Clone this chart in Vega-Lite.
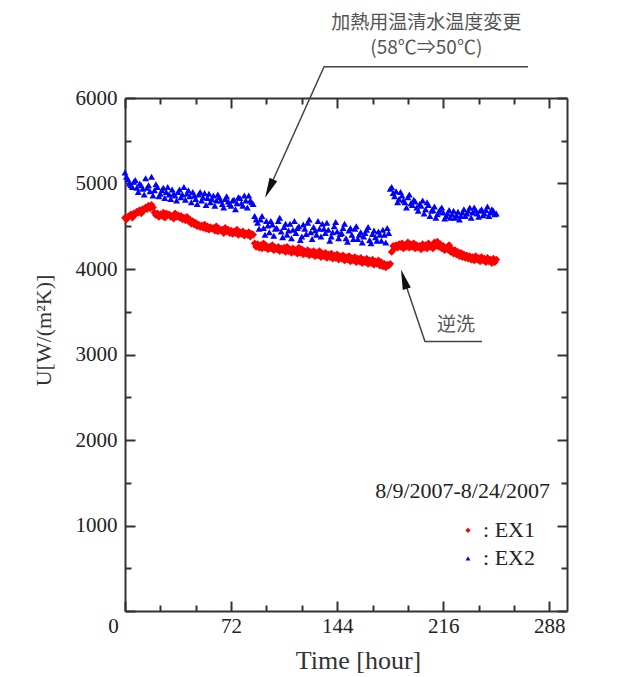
{
  "$schema": "https://vega.github.io/schema/vega-lite/v6.json",
  "width": 442,
  "height": 513,
  "autosize": {"type": "none"},
  "padding": {"left": 125, "top": 98, "right": 58, "bottom": 66},
  "background": "white",
  "config": {
    "view": {"stroke": null},
    "axis": {
      "domainColor": "#333333",
      "domainWidth": 2,
      "tickColor": "#333333",
      "tickWidth": 2,
      "grid": false,
      "labelFont": "Liberation Serif",
      "labelFontSize": 21,
      "labelColor": "#222222",
      "titleFont": "Liberation Serif",
      "titleColor": "#333333",
      "titleFontWeight": "normal",
      "labelOverlap": false,
      "labelFlush": false,
      "zindex": 1
    }
  },
  "datasets": {
    "ex1": [
      {"t":0,"u":4600},{"t":2,"u":4610},{"t":4,"u":4640},{"t":6,"u":4650},{"t":8,"u":4670},{"t":10,"u":4690},{"t":12,"u":4700},{"t":14,"u":4720},{"t":16,"u":4740},{"t":18,"u":4750},
      {"t":20,"u":4660},{"t":22,"u":4650},{"t":24,"u":4640},{"t":26,"u":4660},{"t":28,"u":4650},{"t":30,"u":4640},{"t":32,"u":4620},{"t":34,"u":4650},{"t":36,"u":4630},{"t":38,"u":4620},
      {"t":40,"u":4600},{"t":42,"u":4610},{"t":44,"u":4580},{"t":46,"u":4560},{"t":48,"u":4540},{"t":50,"u":4520},{"t":52,"u":4510},{"t":54,"u":4520},{"t":56,"u":4500},{"t":58,"u":4490},
      {"t":60,"u":4480},{"t":62,"u":4500},{"t":64,"u":4470},{"t":66,"u":4460},{"t":68,"u":4480},{"t":70,"u":4460},{"t":72,"u":4450},{"t":74,"u":4440},{"t":76,"u":4460},{"t":78,"u":4430},
      {"t":80,"u":4440},{"t":82,"u":4420},{"t":84,"u":4430},{"t":86,"u":4410},{"t":88,"u":4300},{"t":90,"u":4290},{"t":92,"u":4280},{"t":94,"u":4300},{"t":96,"u":4270},{"t":98,"u":4260},
      {"t":100,"u":4280},{"t":102,"u":4250},{"t":104,"u":4260},{"t":106,"u":4240},{"t":108,"u":4250},{"t":110,"u":4260},{"t":112,"u":4230},{"t":114,"u":4240},{"t":116,"u":4220},{"t":118,"u":4250},
      {"t":120,"u":4230},{"t":122,"u":4210},{"t":124,"u":4220},{"t":126,"u":4200},{"t":128,"u":4210},{"t":130,"u":4190},{"t":132,"u":4210},{"t":134,"u":4180},{"t":136,"u":4190},{"t":138,"u":4170},
      {"t":140,"u":4180},{"t":142,"u":4160},{"t":144,"u":4170},{"t":146,"u":4150},{"t":148,"u":4160},{"t":150,"u":4140},{"t":152,"u":4150},{"t":154,"u":4130},{"t":156,"u":4140},{"t":158,"u":4120},
      {"t":160,"u":4130},{"t":162,"u":4110},{"t":164,"u":4120},{"t":166,"u":4100},{"t":168,"u":4110},{"t":170,"u":4090},{"t":172,"u":4100},{"t":174,"u":4080},{"t":176,"u":4060},{"t":178,"u":4050},
      {"t":180,"u":4060},{"t":182,"u":4270},{"t":184,"u":4280},{"t":186,"u":4290},{"t":188,"u":4300},{"t":190,"u":4280},{"t":192,"u":4310},{"t":194,"u":4290},{"t":196,"u":4300},{"t":198,"u":4280},
      {"t":200,"u":4270},{"t":202,"u":4290},{"t":204,"u":4280},{"t":206,"u":4300},{"t":208,"u":4270},{"t":210,"u":4310},{"t":212,"u":4320},{"t":214,"u":4290},{"t":216,"u":4270},{"t":218,"u":4250},
      {"t":220,"u":4280},{"t":222,"u":4230},{"t":224,"u":4220},{"t":226,"u":4200},{"t":228,"u":4190},{"t":230,"u":4170},{"t":232,"u":4160},{"t":234,"u":4150},{"t":236,"u":4140},{"t":238,"u":4150},
      {"t":240,"u":4130},{"t":242,"u":4140},{"t":244,"u":4120},{"t":246,"u":4130},{"t":248,"u":4110},{"t":250,"u":4120},{"t":252,"u":4110},
      {"t":1,"u":4580},{"t":3,"u":4620},{"t":5,"u":4600},{"t":7,"u":4640},{"t":9,"u":4660},{"t":11,"u":4650},{"t":13,"u":4690},{"t":15,"u":4700},{"t":17,"u":4710},{"t":19,"u":4720},
      {"t":21,"u":4630},{"t":23,"u":4610},{"t":25,"u":4620},{"t":27,"u":4600},{"t":29,"u":4630},{"t":31,"u":4610},{"t":33,"u":4590},{"t":35,"u":4610},{"t":37,"u":4600},{"t":39,"u":4580},
      {"t":41,"u":4570},{"t":43,"u":4560},{"t":45,"u":4530},{"t":47,"u":4520},{"t":49,"u":4500},{"t":51,"u":4490},{"t":53,"u":4480},{"t":55,"u":4470},{"t":57,"u":4460},{"t":59,"u":4470},
      {"t":61,"u":4450},{"t":63,"u":4440},{"t":65,"u":4450},{"t":67,"u":4420},{"t":69,"u":4440},{"t":71,"u":4420},{"t":73,"u":4410},{"t":75,"u":4420},{"t":77,"u":4400},{"t":79,"u":4410},
      {"t":81,"u":4390},{"t":83,"u":4400},{"t":85,"u":4380},{"t":87,"u":4400},{"t":89,"u":4260},{"t":91,"u":4250},{"t":93,"u":4240},{"t":95,"u":4250},{"t":97,"u":4230},{"t":99,"u":4240},
      {"t":101,"u":4220},{"t":103,"u":4230},{"t":105,"u":4210},{"t":107,"u":4220},{"t":109,"u":4200},{"t":111,"u":4210},{"t":113,"u":4190},{"t":115,"u":4200},{"t":117,"u":4180},{"t":119,"u":4190},
      {"t":121,"u":4170},{"t":123,"u":4180},{"t":125,"u":4160},{"t":127,"u":4170},{"t":129,"u":4150},{"t":131,"u":4160},{"t":133,"u":4140},{"t":135,"u":4150},{"t":137,"u":4130},{"t":139,"u":4140},
      {"t":141,"u":4120},{"t":143,"u":4130},{"t":145,"u":4110},{"t":147,"u":4120},{"t":149,"u":4100},{"t":151,"u":4110},{"t":153,"u":4090},{"t":155,"u":4100},{"t":157,"u":4080},{"t":159,"u":4090},
      {"t":161,"u":4070},{"t":163,"u":4080},{"t":165,"u":4060},{"t":167,"u":4070},{"t":169,"u":4050},{"t":171,"u":4060},{"t":173,"u":4040},{"t":175,"u":4030},{"t":177,"u":4020},{"t":179,"u":4040},
      {"t":181,"u":4200},{"t":183,"u":4240},{"t":185,"u":4250},{"t":187,"u":4260},{"t":189,"u":4240},{"t":191,"u":4260},{"t":193,"u":4250},{"t":195,"u":4260},{"t":197,"u":4240},{"t":199,"u":4250},
      {"t":201,"u":4230},{"t":203,"u":4250},{"t":205,"u":4240},{"t":207,"u":4260},{"t":209,"u":4240},{"t":211,"u":4270},{"t":213,"u":4260},{"t":215,"u":4240},{"t":217,"u":4220},{"t":219,"u":4230},
      {"t":221,"u":4200},{"t":223,"u":4180},{"t":225,"u":4170},{"t":227,"u":4150},{"t":229,"u":4140},{"t":231,"u":4130},{"t":233,"u":4120},{"t":235,"u":4110},{"t":237,"u":4100},{"t":239,"u":4110},
      {"t":241,"u":4090},{"t":243,"u":4100},{"t":245,"u":4080},{"t":247,"u":4090},{"t":249,"u":4070},{"t":251,"u":4080}
    ],
    "ex2": [
      {"t":0,"u":5130},{"t":2,"u":5050},{"t":4,"u":4980},{"t":6,"u":5020},{"t":8,"u":4950},{"t":10,"u":5000},{"t":12,"u":4940},{"t":14,"u":5060},{"t":16,"u":4980},{"t":18,"u":5080},
      {"t":20,"u":4920},{"t":22,"u":4960},{"t":24,"u":4880},{"t":26,"u":4950},{"t":28,"u":4900},{"t":30,"u":4870},{"t":32,"u":4930},{"t":34,"u":4860},{"t":36,"u":4900},{"t":38,"u":4840},
      {"t":40,"u":4960},{"t":42,"u":4880},{"t":44,"u":4850},{"t":46,"u":4900},{"t":48,"u":4820},{"t":50,"u":4870},{"t":52,"u":4800},{"t":54,"u":4890},{"t":56,"u":4830},{"t":58,"u":4780},
      {"t":60,"u":4860},{"t":62,"u":4800},{"t":64,"u":4840},{"t":66,"u":4760},{"t":68,"u":4820},{"t":70,"u":4790},{"t":72,"u":4740},{"t":74,"u":4810},{"t":76,"u":4770},{"t":78,"u":4830},
      {"t":80,"u":4740},{"t":82,"u":4800},{"t":84,"u":4860},{"t":86,"u":4780},{"t":88,"u":4620},{"t":90,"u":4540},{"t":92,"u":4580},{"t":94,"u":4480},{"t":96,"u":4560},{"t":98,"u":4430},
      {"t":100,"u":4520},{"t":102,"u":4470},{"t":104,"u":4560},{"t":106,"u":4440},{"t":108,"u":4490},{"t":110,"u":4400},{"t":112,"u":4530},{"t":114,"u":4460},{"t":116,"u":4420},{"t":118,"u":4500},
      {"t":120,"u":4380},{"t":122,"u":4470},{"t":124,"u":4540},{"t":126,"u":4430},{"t":128,"u":4490},{"t":130,"u":4400},{"t":132,"u":4470},{"t":134,"u":4530},{"t":136,"u":4420},{"t":138,"u":4460},
      {"t":140,"u":4380},{"t":142,"u":4500},{"t":144,"u":4440},{"t":146,"u":4410},{"t":148,"u":4480},{"t":150,"u":4360},{"t":152,"u":4450},{"t":154,"u":4400},{"t":156,"u":4470},{"t":158,"u":4350},
      {"t":160,"u":4430},{"t":162,"u":4380},{"t":164,"u":4460},{"t":166,"u":4340},{"t":168,"u":4410},{"t":170,"u":4370},{"t":172,"u":4440},{"t":174,"u":4330},{"t":176,"u":4400},{"t":178,"u":4480},
      {"t":180,"u":4940},{"t":182,"u":4890},{"t":184,"u":4910},{"t":186,"u":4820},{"t":188,"u":4860},{"t":190,"u":4780},{"t":192,"u":4840},{"t":194,"u":4770},{"t":196,"u":4810},{"t":198,"u":4720},
      {"t":200,"u":4760},{"t":202,"u":4800},{"t":204,"u":4700},{"t":206,"u":4750},{"t":208,"u":4680},{"t":210,"u":4730},{"t":212,"u":4640},{"t":214,"u":4700},{"t":216,"u":4660},{"t":218,"u":4620},
      {"t":220,"u":4690},{"t":222,"u":4640},{"t":224,"u":4600},{"t":226,"u":4670},{"t":228,"u":4620},{"t":230,"u":4700},{"t":232,"u":4650},{"t":234,"u":4720},{"t":236,"u":4660},{"t":238,"u":4690},
      {"t":240,"u":4610},{"t":242,"u":4700},{"t":244,"u":4650},{"t":246,"u":4730},{"t":248,"u":4660},{"t":250,"u":4680},{"t":252,"u":4650},
      {"t":1,"u":5080},{"t":3,"u":5000},{"t":5,"u":4960},{"t":7,"u":5040},{"t":9,"u":4900},{"t":11,"u":4980},{"t":13,"u":4870},{"t":15,"u":4950},{"t":17,"u":4910},{"t":19,"u":4860},
      {"t":21,"u":4990},{"t":23,"u":4850},{"t":25,"u":4920},{"t":27,"u":4830},{"t":29,"u":4960},{"t":31,"u":4820},{"t":33,"u":4880},{"t":35,"u":4800},{"t":37,"u":4930},{"t":39,"u":4870},
      {"t":41,"u":4810},{"t":43,"u":4920},{"t":45,"u":4780},{"t":47,"u":4860},{"t":49,"u":4760},{"t":51,"u":4900},{"t":53,"u":4840},{"t":55,"u":4750},{"t":57,"u":4880},{"t":59,"u":4820},
      {"t":61,"u":4740},{"t":63,"u":4870},{"t":65,"u":4800},{"t":67,"u":4720},{"t":69,"u":4850},{"t":71,"u":4760},{"t":73,"u":4800},{"t":75,"u":4700},{"t":77,"u":4840},{"t":79,"u":4770},
      {"t":81,"u":4860},{"t":83,"u":4720},{"t":85,"u":4800},{"t":87,"u":4760},{"t":89,"u":4580},{"t":91,"u":4470},{"t":93,"u":4620},{"t":95,"u":4400},{"t":97,"u":4510},{"t":99,"u":4560},
      {"t":101,"u":4390},{"t":103,"u":4480},{"t":105,"u":4600},{"t":107,"u":4370},{"t":109,"u":4530},{"t":111,"u":4450},{"t":113,"u":4360},{"t":115,"u":4560},{"t":117,"u":4480},{"t":119,"u":4340},
      {"t":121,"u":4520},{"t":123,"u":4410},{"t":125,"u":4580},{"t":127,"u":4350},{"t":129,"u":4450},{"t":131,"u":4560},{"t":133,"u":4380},{"t":135,"u":4470},{"t":137,"u":4540},{"t":139,"u":4330},
      {"t":141,"u":4430},{"t":143,"u":4550},{"t":145,"u":4360},{"t":147,"u":4420},{"t":149,"u":4530},{"t":151,"u":4320},{"t":153,"u":4480},{"t":155,"u":4350},{"t":157,"u":4500},{"t":159,"u":4400},
      {"t":161,"u":4310},{"t":163,"u":4420},{"t":165,"u":4490},{"t":167,"u":4300},{"t":169,"u":4450},{"t":171,"u":4330},{"t":173,"u":4400},{"t":175,"u":4460},{"t":177,"u":4310},{"t":179,"u":4420},
      {"t":181,"u":4960},{"t":183,"u":4850},{"t":185,"u":4780},{"t":187,"u":4900},{"t":189,"u":4800},{"t":191,"u":4720},{"t":193,"u":4870},{"t":195,"u":4750},{"t":197,"u":4790},{"t":199,"u":4680},
      {"t":201,"u":4740},{"t":203,"u":4650},{"t":205,"u":4780},{"t":207,"u":4620},{"t":209,"u":4690},{"t":211,"u":4600},{"t":213,"u":4670},{"t":215,"u":4720},{"t":217,"u":4590},{"t":219,"u":4650},
      {"t":221,"u":4600},{"t":223,"u":4680},{"t":225,"u":4630},{"t":227,"u":4580},{"t":229,"u":4660},{"t":231,"u":4620},{"t":233,"u":4680},{"t":235,"u":4600},{"t":237,"u":4720},{"t":239,"u":4650},
      {"t":241,"u":4680},{"t":243,"u":4630},{"t":245,"u":4690},{"t":247,"u":4620},{"t":249,"u":4700},{"t":251,"u":4640}
    ],
    "notes": [
      {"t":204.5,"u":6880,"text":"加熱用温清水温度変更"},
      {"t":204.5,"u":6588,"text":"(58℃⇒50℃)"},
      {"t":224.7,"u":3350,"text":"逆洗"}
    ],
    "leaders": [
      {"g":"a","t":97.9,"u":4941},{"g":"a","t":135.1,"u":6366},{"g":"a","t":273.5,"u":6366},
      {"g":"b","t":189.3,"u":3881},{"g":"b","t":203.6,"u":3152},{"g":"b","t":242.3,"u":3152}
    ]
  },
  "layer": [
    {
      "data": {"name": "ex1"},
      "mark": {"type": "point", "shape": "diamond", "filled": true, "size": 60, "color": "#ff0000", "opacity": 1},
      "encoding": {
        "x": {"field": "t", "type": "quantitative", "scale": {"domain": [0, 300], "nice": false, "zero": false},
          "axis": {"orient": "bottom", "values": [0,24,48,72,96,120,144,168,192,216,240,264,288],
            "labelExpr": "datum.value % 72 == 0 ? datum.label : ''",
            "tickSize": {"condition": {"test": "datum.value % 72 == 0", "value": -10}, "value": -6},
            "labelOffset": {"condition": {"test": "datum.value == 0", "value": -12}, "value": 0},
            "labelPadding": 14,
            "title": "Time [hour]", "titleFontSize": 26, "titleX": 233, "titleY": 57, "titleBaseline": "alphabetic", "titleAnchor": "start", "titleAlign": "center"}},
        "y": {"field": "u", "type": "quantitative", "scale": {"domain": [0, 6000], "nice": false, "zero": false},
          "axis": {"orient": "left", "values": [0,500,1000,1500,2000,2500,3000,3500,4000,4500,5000,5500,6000], "format": "d",
            "labelExpr": "datum.value % 1000 == 0 && datum.value > 0 ? datum.label : ''",
            "tickSize": {"condition": {"test": "datum.value % 1000 == 0", "value": -10}, "value": -6},
            "labelPadding": 18,
            "title": "U[W/(m²K)]", "titleFontSize": 22, "titleX": -75, "titleY": 232, "titleAngle": -90, "titleBaseline": "alphabetic", "titleAlign": "center", "titleAnchor": "start"}}
      }
    },
    {
      "data": {"name": "ex2"},
      "mark": {"type": "point", "shape": "triangle-up", "filled": true, "size": 48, "color": "#0000ff", "opacity": 1},
      "encoding": {
        "x": {"field": "t", "type": "quantitative", "scale": {"domain": [0, 300], "nice": false, "zero": false},
          "axis": {"orient": "top", "values": [0,24,48,72,96,120,144,168,192,216,240,264,288], "labels": false, "title": null,
            "tickSize": {"condition": {"test": "datum.value % 72 == 0", "value": -10}, "value": -6}}},
        "y": {"field": "u", "type": "quantitative", "scale": {"domain": [0, 6000], "nice": false, "zero": false},
          "axis": {"orient": "right", "values": [0,500,1000,1500,2000,2500,3000,3500,4000,4500,5000,5500,6000], "labels": false, "title": null,
            "tickSize": {"condition": {"test": "datum.value % 1000 == 0", "value": -10}, "value": -6}}}
      }
    },
    {
      "data": {"name": "leaders"},
      "mark": {"type": "line", "color": "#444444", "strokeWidth": 1.5, "clip": false},
      "encoding": {
        "x": {"field": "t", "type": "quantitative", "scale": {"domain": [0, 300], "nice": false, "zero": false}, "axis": null},
        "y": {"field": "u", "type": "quantitative", "scale": {"domain": [0, 6000], "nice": false, "zero": false}, "axis": null},
        "detail": {"field": "g"}
      }
    },
    {
      "data": {"values": [{"t": 97.9, "u": 4941}]},
      "mark": {"type": "point", "shape": "M0,-1L0.42,1L-0.42,1Z", "filled": true, "size": 400, "angle": 204.6, "color": "#111111", "opacity": 1, "clip": false},
      "encoding": {
        "x": {"field": "t", "type": "quantitative", "scale": {"domain": [0, 300], "nice": false, "zero": false}, "axis": null},
        "y": {"field": "u", "type": "quantitative", "scale": {"domain": [0, 6000], "nice": false, "zero": false}, "axis": null}
      }
    },
    {
      "data": {"values": [{"t": 189.3, "u": 3881}]},
      "mark": {"type": "point", "shape": "M0,-1L0.42,1L-0.42,1Z", "filled": true, "size": 400, "angle": 343.1, "color": "#111111", "opacity": 1, "clip": false},
      "encoding": {
        "x": {"field": "t", "type": "quantitative", "scale": {"domain": [0, 300], "nice": false, "zero": false}, "axis": null},
        "y": {"field": "u", "type": "quantitative", "scale": {"domain": [0, 6000], "nice": false, "zero": false}, "axis": null}
      }
    },
    {
      "data": {"name": "notes"},
      "mark": {"type": "text", "font": "Noto Sans CJK JP", "fontSize": 19, "color": "#555555", "align": "center", "baseline": "middle", "clip": false},
      "encoding": {
        "x": {"field": "t", "type": "quantitative", "scale": {"domain": [0, 300], "nice": false, "zero": false}, "axis": null},
        "y": {"field": "u", "type": "quantitative", "scale": {"domain": [0, 6000], "nice": false, "zero": false}, "axis": null},
        "text": {"field": "text"}
      }
    },
    {
      "data": {"values": [{"t": 288.5, "u": 1400, "text": "8/9/2007-8/24/2007"}]},
      "mark": {"type": "text", "font": "Liberation Serif", "fontSize": 22, "color": "#222222", "align": "right", "baseline": "middle"},
      "encoding": {
        "x": {"field": "t", "type": "quantitative", "scale": {"domain": [0, 300], "nice": false, "zero": false}, "axis": null},
        "y": {"field": "u", "type": "quantitative", "scale": {"domain": [0, 6000], "nice": false, "zero": false}, "axis": null},
        "text": {"field": "text"}
      }
    },
    {
      "data": {"values": [{"t": 243, "u": 943, "text": ": EX1"}, {"t": 243, "u": 616, "text": ": EX2"}]},
      "mark": {"type": "text", "font": "Liberation Serif", "fontSize": 22, "color": "#222222", "align": "left", "baseline": "middle"},
      "encoding": {
        "x": {"field": "t", "type": "quantitative", "scale": {"domain": [0, 300], "nice": false, "zero": false}, "axis": null},
        "y": {"field": "u", "type": "quantitative", "scale": {"domain": [0, 6000], "nice": false, "zero": false}, "axis": null},
        "text": {"field": "text"}
      }
    },
    {
      "data": {"values": [{"t": 232.8, "u": 943}]},
      "mark": {"type": "point", "shape": "diamond", "filled": true, "size": 28, "color": "#ff0000", "opacity": 1},
      "encoding": {
        "x": {"field": "t", "type": "quantitative", "scale": {"domain": [0, 300], "nice": false, "zero": false}, "axis": null},
        "y": {"field": "u", "type": "quantitative", "scale": {"domain": [0, 6000], "nice": false, "zero": false}, "axis": null}
      }
    },
    {
      "data": {"values": [{"t": 232.8, "u": 616}]},
      "mark": {"type": "point", "shape": "triangle-up", "filled": true, "size": 24, "color": "#0000ff", "opacity": 1},
      "encoding": {
        "x": {"field": "t", "type": "quantitative", "scale": {"domain": [0, 300], "nice": false, "zero": false}, "axis": null},
        "y": {"field": "u", "type": "quantitative", "scale": {"domain": [0, 6000], "nice": false, "zero": false}, "axis": null}
      }
    }
  ],
  "resolve": {"axis": {"x": "independent", "y": "independent"}}
}
